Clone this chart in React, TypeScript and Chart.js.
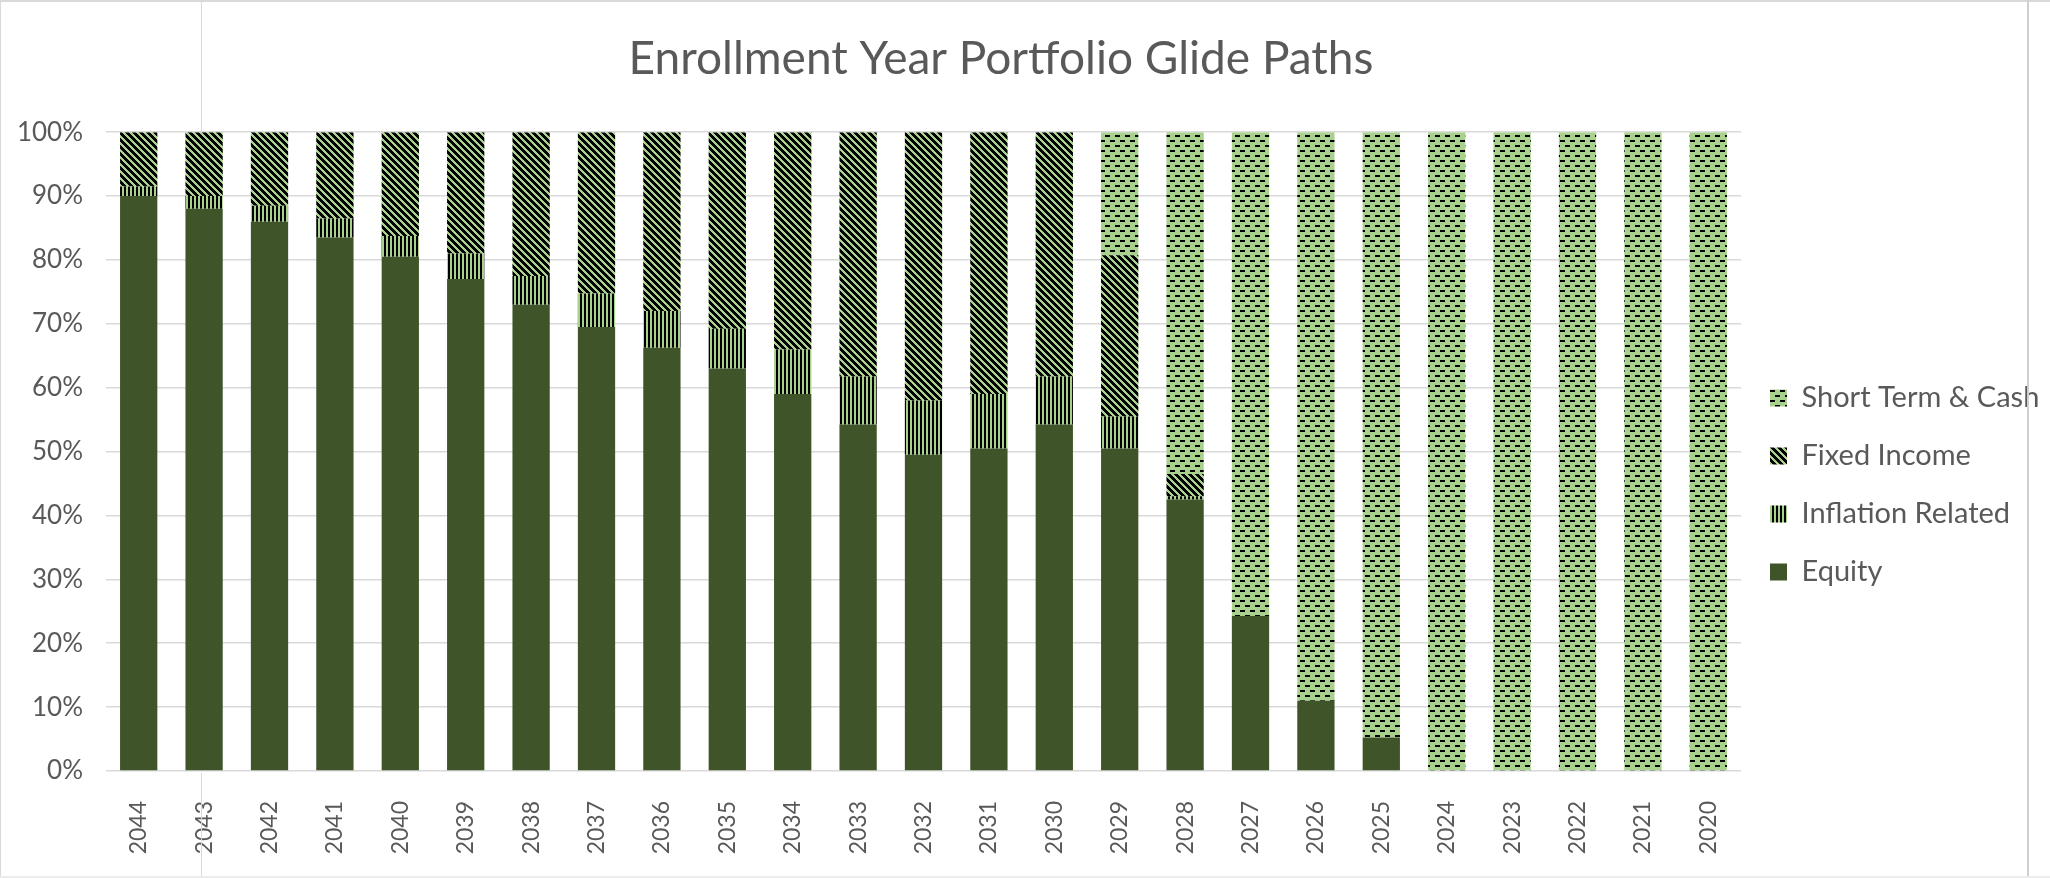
import React, { useEffect, useRef } from "react";
import { Chart, registerables } from "chart.js";

Chart.register(...registerables);

// Enrollment years, oldest glide path on the left
const years = [
  "2044", "2043", "2042", "2041", "2040", "2039", "2038", "2037", "2036", "2035",
  "2034", "2033", "2032", "2031", "2030", "2029", "2028", "2027", "2026", "2025",
  "2024", "2023", "2022", "2021", "2020",
];

// Allocation per asset class, in percent of the portfolio
const equity = [
  90, 88, 86, 83.5, 80.5, 77, 73, 69.5, 66.25, 63,
  59, 54.25, 49.5, 50.5, 54.25, 50.5, 42.5, 24.25, 11, 5.25,
  0, 0, 0, 0, 0,
];
const inflationRelated = [
  1.5, 2, 2.5, 3, 3.25, 4, 4.5, 5.25, 5.75, 6.25,
  7, 7.5, 8.5, 8.5, 7.5, 5, 0.5, 0, 0, 0,
  0, 0, 0, 0, 0,
];
const fixedIncome = [
  8.5, 10, 11.5, 13.5, 16.25, 19, 22.5, 25.25, 28, 30.75,
  34, 38.25, 42, 41, 38.25, 25.25, 3.5, 0, 0, 0,
  0, 0, 0, 0, 0,
];
const shortTermCash = [
  0, 0, 0, 0, 0, 0, 0, 0, 0, 0,
  0, 0, 0, 0, 0, 19.25, 53.5, 75.75, 89, 94.75,
  100, 100, 100, 100, 100,
];

const yTicks = [0, 10, 20, 30, 40, 50, 60, 70, 80, 90, 100];

const DARK_GREEN = "#3f5429";
const LIGHT_GREEN = "#a9d18e";
const INK = "#000000";
const TEXT = "#595959";
const GRID = "#d9d9d9";
const FONT = "Lato, 'Open Sans', sans-serif";

// Builds a small bitmap fill tile: light green ground, black where `on` holds.
function bitmapPattern(
  ctx: CanvasRenderingContext2D,
  w: number,
  h: number,
  on: (x: number, y: number) => boolean
): CanvasPattern | string {
  const tile = document.createElement("canvas");
  tile.width = w;
  tile.height = h;
  const g = tile.getContext("2d");
  if (!g) return LIGHT_GREEN;
  g.fillStyle = LIGHT_GREEN;
  g.fillRect(0, 0, w, h);
  g.fillStyle = INK;
  for (let y = 0; y < h; y++) {
    for (let x = 0; x < w; x++) {
      if (on(x, y)) g.fillRect(x, y, 1, 1);
    }
  }
  return ctx.createPattern(tile, "repeat") || LIGHT_GREEN;
}

export default function App() {
  const canvasRef = useRef<HTMLCanvasElement | null>(null);

  useEffect(() => {
    const canvas = canvasRef.current;
    if (!canvas) return;
    const ctx = canvas.getContext("2d");
    if (!ctx) return;

    // wide downward diagonal
    const diagonal = bitmapPattern(ctx, 7, 7, (x, y) => (((x - y) % 7) + 7) % 7 < 4);
    // dark vertical
    const vertical = bitmapPattern(ctx, 4, 4, (x) => x < 2);
    // dashed horizontal, staggered rows
    const dashed = bitmapPattern(
      ctx,
      10,
      10,
      (x, y) => (y < 2 && x < 5) || (y >= 5 && y < 7 && x >= 5)
    );

    const chart = new Chart(canvas, {
      type: "bar",
      data: {
        labels: years,
        datasets: [
          { label: "Equity", data: equity, backgroundColor: DARK_GREEN, borderWidth: 0 },
          { label: "Inflation Related", data: inflationRelated, backgroundColor: vertical, borderWidth: 0 },
          { label: "Fixed Income", data: fixedIncome, backgroundColor: diagonal, borderWidth: 0 },
          { label: "Short Term & Cash", data: shortTermCash, backgroundColor: dashed, borderWidth: 0 },
        ],
      },
      options: {
        animation: false,
        responsive: false,
        maintainAspectRatio: false,
        layout: { padding: { left: -44, right: 4, top: 0, bottom: 0 } },
        datasets: {
          bar: { categoryPercentage: 1, barPercentage: 0.57 },
        },
        plugins: {
          title: {
            display: true,
            text: "Enrollment Year Portfolio Glide Paths",
            color: TEXT,
            font: { family: FONT, size: 46, weight: "normal", lineHeight: 1.2 },
            padding: { top: 32, bottom: 45 },
          },
          legend: {
            display: true,
            position: "right",
            align: "center",
            reverse: true,
            maxWidth: 305,
            title: {
              display: true,
              text: " ",
              font: { family: FONT, size: 10, lineHeight: 1.2 },
              padding: { top: 80, bottom: 0 },
            },
            labels: {
              color: TEXT,
              font: { family: FONT, size: 29 },
              boxWidth: 17,
              boxHeight: 17,
              padding: 29,
            },
          },
          tooltip: { enabled: false },
        },
        scales: {
          x: {
            stacked: true,
            grid: { display: false },
            border: { display: false },
            ticks: {
              color: TEXT,
              font: { family: FONT, size: 23 },
              minRotation: 90,
              maxRotation: 90,
              autoSkip: false,
              padding: 22,
            },
            afterFit: (scale: any) => {
              scale.height = 107;
            },
          },
          y: {
            stacked: true,
            min: 0,
            max: 100,
            grid: { color: GRID, lineWidth: 1.6, drawTicks: false },
            border: { display: false },
            afterBuildTicks: (scale: any) => {
              scale.ticks = yTicks.map((v) => ({ value: v }));
            },
            ticks: {
              color: TEXT,
              font: { family: FONT, size: 26 },
              padding: 23,
              callback: (v: any) => `${v}%`,
            },
            afterFit: (scale: any) => {
              scale.width = 150;
            },
          },
        },
      },
    });

    return () => chart.destroy();
  }, []);

  const line = (style: React.CSSProperties): React.CSSProperties => ({
    position: "absolute",
    background: GRID,
    pointerEvents: "none",
    ...style,
  });

  return (
    <div
      style={{
        position: "absolute",
        left: 0,
        top: 0,
        width: 2050,
        height: 878,
        overflow: "hidden",
        background: "#ffffff",
      }}
    >
      <canvas ref={canvasRef} width={2050} height={878} style={{ display: "block" }} />
      <div style={line({ left: 0, top: 0, width: 2050, height: 2 })} />
      <div style={line({ left: 0, top: 0, width: 1, height: 878 })} />
      <div style={line({ left: 201, top: 0, width: 1, height: 131 })} />
      <div style={line({ left: 201, top: 773, width: 1, height: 105 })} />
      <div style={line({ left: 2027, top: 0, width: 2, height: 878, background: "#cfcfcf" })} />
      <div style={line({ left: 0, top: 876, width: 2050, height: 2, background: "#ececec" })} />
    </div>
  );
}
